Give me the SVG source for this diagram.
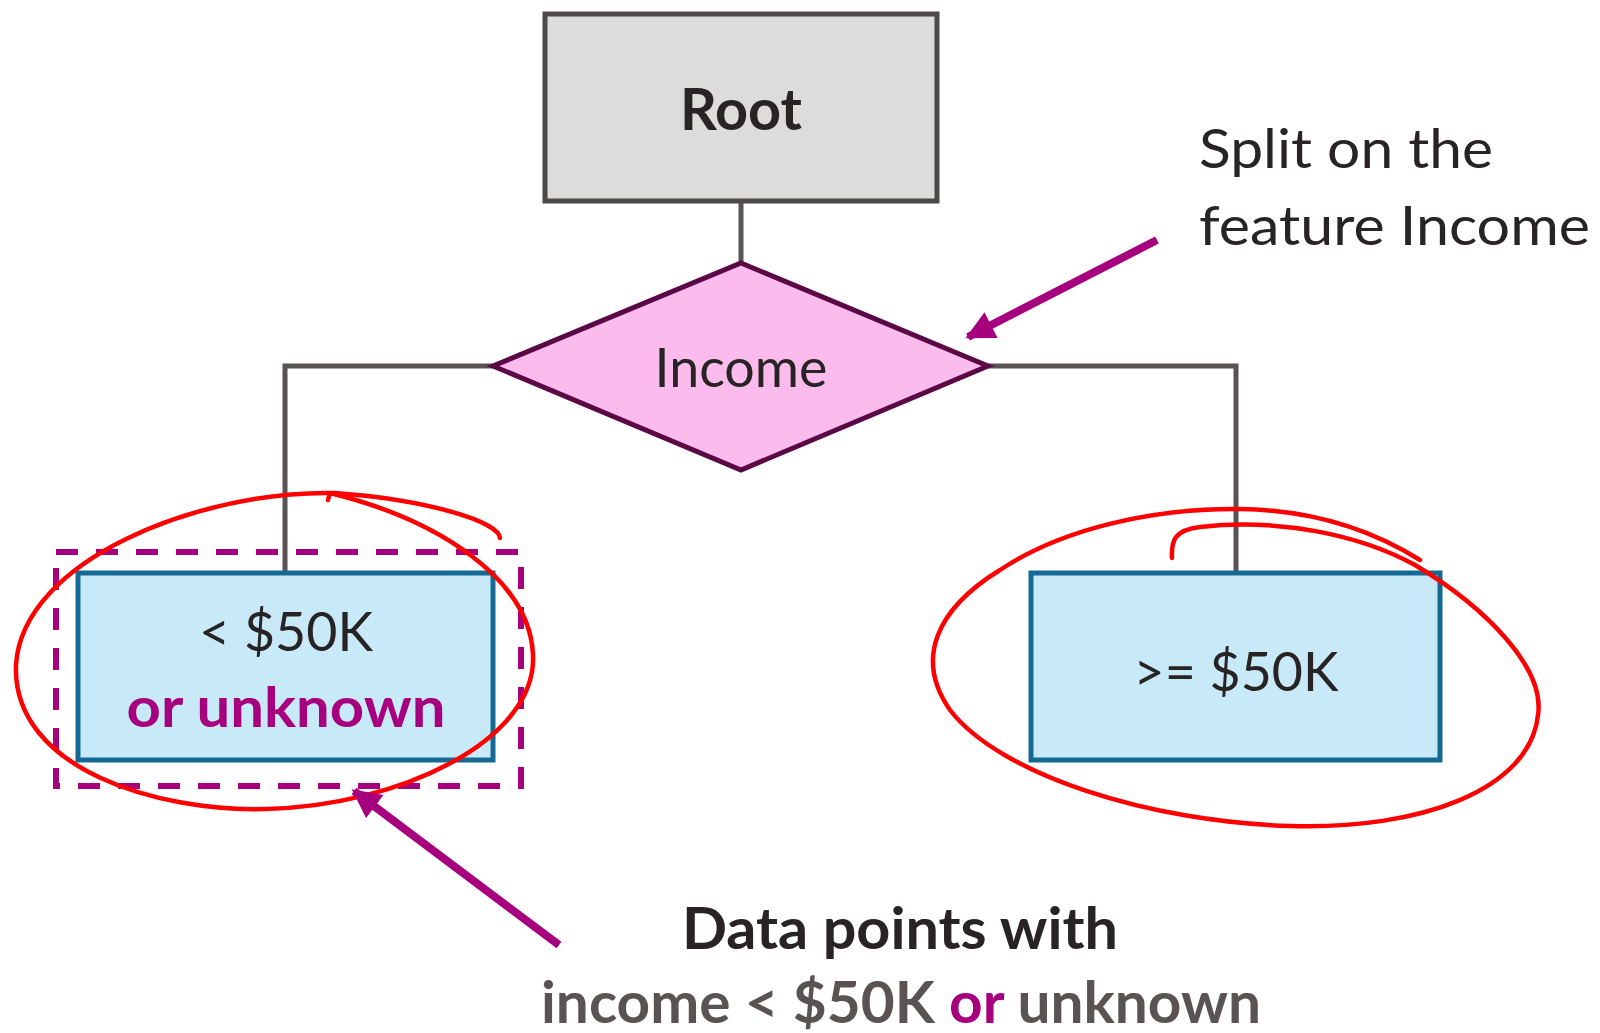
<svg xmlns="http://www.w3.org/2000/svg" width="1600" height="1033" viewBox="0 0 1600 1033">
<style>
  .t { font-family: Lato, "Open Sans", sans-serif; fill: #282425; }
  .b { font-weight: bold; }
  .conn { fill: none; stroke: #595354; stroke-width: 5; }
  .leaf { fill: #c8eaf8; stroke: #156a95; stroke-width: 5; }
  .red { fill: none; stroke: #ff0000; stroke-width: 4.5; stroke-linecap: round; stroke-linejoin: round; }
  .ann { fill: none; stroke: #a6007e; stroke-width: 8; }
  .mag { fill: #a6007e; }
</style>
<defs>
  <marker id="ah" viewBox="0 0 10 10" refX="9" refY="5" markerWidth="3.8" markerHeight="3.6" orient="auto" markerUnits="strokeWidth">
    <path d="M0,0 L10,5 L0,10 Z" fill="#a6007e"/>
  </marker>
</defs>
<rect width="1600" height="1033" fill="#ffffff"/>

<g id="connectors">
  <line class="conn" x1="741" y1="201" x2="741" y2="263"/>
  <polyline class="conn" points="493,366 285,366 285,573"/>
  <polyline class="conn" points="988,366 1236,366 1236,573"/>
</g>

<g id="root">
  <rect x="545" y="14" width="392" height="187" fill="#dddcdb" stroke="#4d4849" stroke-width="5"/>
  <text class="t b" x="741" y="130" font-size="57" text-anchor="middle" textLength="122" lengthAdjust="spacingAndGlyphs">Root</text>
</g>

<g id="income">
  <polygon points="741,263 988,366 741,470 493,366" fill="#fbbbec" stroke="#5a0846" stroke-width="5"/>
  <text class="t" x="741" y="387" font-size="55" text-anchor="middle" textLength="173" lengthAdjust="spacingAndGlyphs">Income</text>
</g>

<g id="left-leaf">
  <rect class="leaf" x="78" y="573" width="415" height="187"/>
  <text class="t" x="286" y="651" font-size="55" text-anchor="middle" textLength="174" lengthAdjust="spacingAndGlyphs">&lt; $50K</text>
  <text class="t b" x="286" y="727" font-size="55" text-anchor="middle" style="fill:#a6007e" textLength="319" lengthAdjust="spacingAndGlyphs">or unknown</text>
</g>

<g id="right-leaf">
  <rect class="leaf" x="1031" y="573" width="409" height="187"/>
  <text class="t" x="1236" y="691" font-size="55" text-anchor="middle" textLength="205" lengthAdjust="spacingAndGlyphs">&gt;= $50K</text>
</g>

<g id="selection">
  <rect x="56" y="552" width="465" height="234" fill="none" stroke="#a6007e" stroke-width="6" stroke-dasharray="22 18"/>
</g>

<g id="red-marks">
  <path class="red" d="M500,538 C499,522 430,500 335,493 C200,490 22,560 16,665 C12,770 160,812 265,809 C400,806 537,740 533,655 C530,580 440,520 330,493 L328,500"/>
  <path class="red" d="M1172,558 C1171,540 1175,530 1200,527 C1280,518 1360,535 1415,565 C1490,610 1545,670 1538,715 C1530,790 1420,830 1290,826 C1150,822 1000,775 950,710 C915,660 935,610 1000,570 C1060,530 1150,508 1240,509 C1320,510 1380,535 1420,560"/>
</g>

<g id="annotations">
  <line class="ann" x1="1157" y1="240" x2="968" y2="337" marker-end="url(#ah)"/>
  <text class="t" x="1199" y="168" font-size="55" textLength="294" lengthAdjust="spacingAndGlyphs">Split on the</text>
  <text class="t" x="1199" y="245" font-size="55" textLength="391" lengthAdjust="spacingAndGlyphs">feature Income</text>
  <line class="ann" x1="559" y1="945" x2="354" y2="791" marker-end="url(#ah)"/>
  <text class="t b" x="900" y="949" font-size="57" text-anchor="middle" textLength="436" lengthAdjust="spacingAndGlyphs">Data points with</text>
  <text class="t b" x="541" y="1023" font-size="57" style="fill:#595354" textLength="720" lengthAdjust="spacingAndGlyphs">income &lt; $50K <tspan class="mag">or</tspan> unknown</text>
</g>
</svg>
